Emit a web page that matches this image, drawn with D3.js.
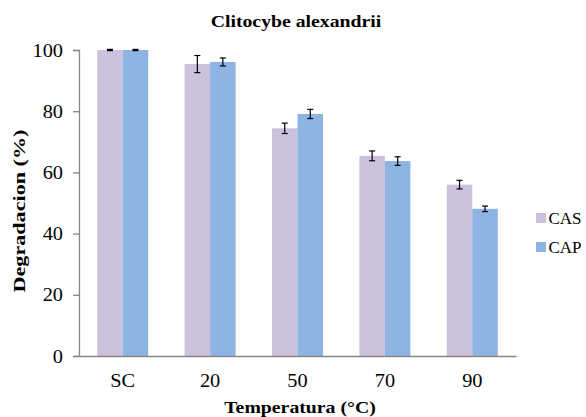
<!DOCTYPE html>
<html>
<head>
<meta charset="utf-8">
<script src="https://cdn.jsdelivr.net/npm/d3@7"></script>
<style>
  html, body { margin: 0; padding: 0; background: #fff; }
  svg { display: block; }
</style>
</head>
<body>
<svg id="chart" width="586" height="417"></svg>
<script>
const categories = ["SC", "20", "50", "70", "90"];
const seriesNames = ["CAS", "CAP"];
const casValues = [100, 95.4, 74.4, 65.4, 56.0];
const capValues = [100, 96.1, 79.1, 63.7, 48.1];
const casErrors = [0.2, 2.8, 1.7, 1.6, 1.4];
const capErrors = [0.2, 1.3, 1.5, 1.4, 0.9];
const yTicks = [0, 20, 40, 60, 80, 100];
const titleText = "Clitocybe alexandrii";
const xTitle = "Temperatura (°C)";
const yTitle = "Degradacion (%)";

const colors = { CAS: "#CCC1DA", CAP: "#8DB4E2" };
const FONT = "'Liberation Serif', 'Times New Roman', Times, serif";
const SX = 1.13;

const svg = d3.select("#chart");
const plotLeft = 79, plotRight = 516, plotTop = 50, plotBottom = 356;

const y = d3.scaleLinear().domain([0, 100]).range([plotBottom, plotTop]);
const x0 = d3.scaleBand().domain(categories).range([plotLeft, plotRight])
  .paddingInner(0.416).paddingOuter(0.208);
const x1 = d3.scaleBand().domain(seriesNames).range([0, x0.bandwidth()]);

const data = categories.map((c, i) => ({
  cat: c,
  vals: [
    { s: "CAS", v: casValues[i], e: casErrors[i] },
    { s: "CAP", v: capValues[i], e: capErrors[i] }
  ]
}));

// bars
const groups = svg.append("g").selectAll("g").data(data).join("g")
  .attr("transform", d => `translate(${x0(d.cat)},0)`);
groups.selectAll("rect").data(d => d.vals).join("rect")
  .attr("x", d => x1(d.s))
  .attr("y", d => y(d.v))
  .attr("width", x1.bandwidth())
  .attr("height", d => y(0) - y(d.v))
  .attr("fill", d => colors[d.s]);

// error bars
const eb = groups.selectAll("g.err").data(d => d.vals).join("g").attr("class", "err");
eb.append("line")
  .attr("x1", d => x1(d.s) + x1.bandwidth() / 2)
  .attr("x2", d => x1(d.s) + x1.bandwidth() / 2)
  .attr("y1", d => y(d.v + d.e)).attr("y2", d => y(d.v - d.e))
  .attr("stroke", "#000").attr("stroke-width", 1.2);
[1, -1].forEach(sg => {
  eb.append("line")
    .attr("x1", d => x1(d.s) + x1.bandwidth() / 2 - 3)
    .attr("x2", d => x1(d.s) + x1.bandwidth() / 2 + 3)
    .attr("y1", d => y(d.v + sg * d.e)).attr("y2", d => y(d.v + sg * d.e))
    .attr("stroke", "#000").attr("stroke-width", 1.2);
});

// y axis
const yAxis = svg.append("g").attr("transform", `translate(${plotLeft},0)`)
  .call(d3.axisLeft(y).tickValues(yTicks).tickSize(6).tickPadding(10));
yAxis.attr("font-family", null);
yAxis.select(".domain").attr("stroke", "#868686").attr("stroke-width", 1.3);
yAxis.selectAll(".tick line").attr("stroke", "#868686").attr("stroke-width", 1.3);
yAxis.selectAll(".tick text")
  .style("font-family", FONT).style("font-size", "18px").attr("fill", "#000")
  .attr("x", null).attr("dy", null)
  .attr("transform", `translate(-16,6) scale(${SX},1)`);

// x axis
const xAxis = svg.append("g").attr("transform", `translate(0,${plotBottom})`)
  .call(d3.axisBottom(x0).tickSize(0).tickPadding(0));
xAxis.attr("font-family", null);
xAxis.select(".domain").attr("stroke", "#868686").attr("stroke-width", 1.3);
xAxis.selectAll(".tick text")
  .style("font-family", FONT).style("font-size", "18px").attr("fill", "#000")
  .attr("y", null).attr("dy", null)
  .attr("transform", `translate(0,31) scale(${SX},1)`);

// title
svg.append("text").attr("text-anchor", "middle")
  .attr("transform", `translate(296,27) scale(${SX},1)`)
  .style("font-family", FONT).style("font-size", "17.5px").style("font-weight", "bold")
  .text(titleText);

// x title
svg.append("text").attr("text-anchor", "middle")
  .attr("transform", `translate(300,413) scale(${SX},1)`)
  .style("font-family", FONT).style("font-size", "17.5px").style("font-weight", "bold")
  .text(xTitle);

// y title
svg.append("text").attr("text-anchor", "middle")
  .attr("transform", `translate(25,211) rotate(-90)`)
  .style("font-family", FONT).style("font-size", "17.5px").style("font-weight", "bold")
  .attr("textLength", 163).attr("lengthAdjust", "spacingAndGlyphs")
  .text(yTitle);

// legend
const legend = svg.append("g").selectAll("g").data(seriesNames).join("g")
  .attr("transform", (d, i) => `translate(536,${213 + i * 29})`);
legend.append("rect").attr("width", 10).attr("height", 10)
  .attr("fill", d => colors[d]);
legend.append("text")
  .attr("transform", `translate(12.5,10.5)`)
  .style("font-family", FONT).style("font-size", "17px")
  .text(d => d);
</script>
</body>
</html>
